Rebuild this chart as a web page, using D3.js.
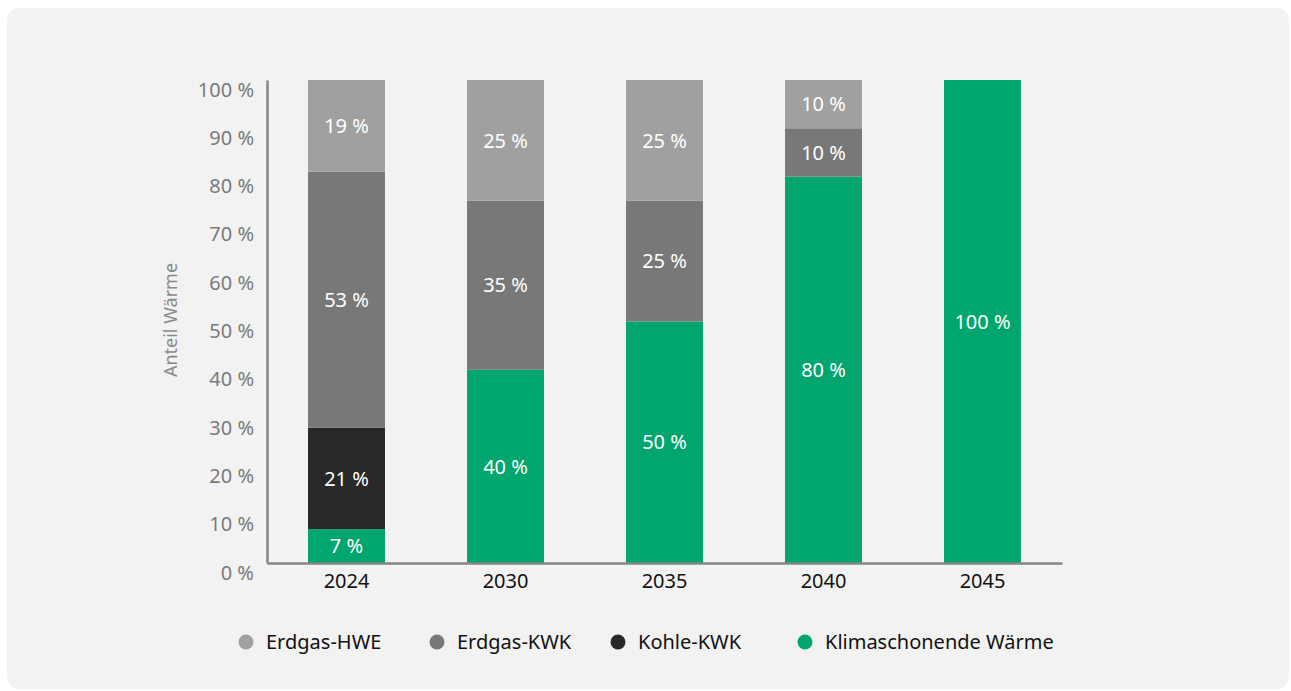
<!DOCTYPE html>
<html>
<head>
<meta charset="utf-8">
<script src="https://cdn.jsdelivr.net/npm/d3@7"></script>
<style>
  html, body { margin: 0; padding: 0; background: #fff; }
  svg { display: block; font-family: "Noto Sans", "Open Sans", sans-serif; }
</style>
</head>
<body>
<svg width="1291" height="691"></svg>
<script>
(function (d3) {
    'use strict';

    // data
    const years = ['2024', '2030', '2035', '2040', '2045'];
    const seriesNames = ['Klimaschonende Wärme', 'Kohle-KWK', 'Erdgas-KWK', 'Erdgas-HWE'];
    const klimaschonend = [7, 40, 50, 80, 100];
    const kohleKWK = [21, 0, 0, 0, 0];
    const erdgasKWK = [53, 35, 25, 10, 0];
    const erdgasHWE = [19, 25, 25, 10, 0];
    const yTicks = [0, 10, 20, 30, 40, 50, 60, 70, 80, 90, 100];
    const legendOrder = ['Erdgas-HWE', 'Erdgas-KWK', 'Kohle-KWK', 'Klimaschonende Wärme'];

    const colors = {
        'Erdgas-HWE': '#a0a0a0',
        'Erdgas-KWK': '#787878',
        'Kohle-KWK': '#282828',
        'Klimaschonende Wärme': '#00a66e'
    };

    const rows = years.map((y, i) => ({
        year: y,
        'Klimaschonende Wärme': klimaschonend[i],
        'Kohle-KWK': kohleKWK[i],
        'Erdgas-KWK': erdgasKWK[i],
        'Erdgas-HWE': erdgasHWE[i]
    }));

    const svg = d3.select('svg');

    svg.append('rect')
        .attr('x', 7).attr('y', 8)
        .attr('width', 1282).attr('height', 681)
        .attr('rx', 12)
        .attr('fill', '#f2f2f2');

    const left = 267, right = 1062, top = 80, bottom = 563;

    const x = d3.scaleBand()
        .domain(years)
        .range([left, right])
        .paddingInner(0.516)
        .paddingOuter(0.258);

    const y = d3.scaleLinear()
        .domain([0, 100])
        .range([bottom, top]);

    const stacked = d3.stack().keys(seriesNames)(rows);

    const layers = svg.append('g').selectAll('g')
        .data(stacked)
        .join('g')
        .attr('fill', d => colors[d.key]);

    layers.selectAll('rect')
        .data(d => d.filter(s => s[1] > s[0]))
        .join('rect')
        .attr('x', d => x(d.data.year))
        .attr('width', x.bandwidth())
        .attr('y', d => y(d[1]))
        .attr('height', d => y(d[0]) - y(d[1]));

    // value labels, centred in each segment
    layers.selectAll('text')
        .data(d => d.filter(s => s[1] > s[0]))
        .join('text')
        .attr('x', d => x(d.data.year) + x.bandwidth() / 2)
        .attr('y', d => y((d[0] + d[1]) / 2))
        .attr('dy', '0.36em')
        .attr('text-anchor', 'middle')
        .attr('fill', '#fff')
        .attr('font-size', 20)
        .text(d => (d[1] - d[0]) + ' %');

    // y axis
    const yAxis = svg.append('g')
        .attr('transform', `translate(${left},0)`)
        .call(d3.axisLeft(y).tickValues(yTicks).tickSize(0).tickPadding(13).tickFormat(d => d + ' %'));
    yAxis.select('.domain').attr('stroke', '#858585').attr('stroke-width', 2.5);
    yAxis.selectAll('text')
        .attr('font-size', 20)
        .attr('fill', '#7a7a7a')
        .attr('font-family', '"Noto Sans", sans-serif')
        .attr('dy', '0.8em');

    // x axis
    const xAxis = svg.append('g')
        .attr('transform', `translate(0,${bottom})`)
        .call(d3.axisBottom(x).tickSize(0).tickPadding(11));
    xAxis.select('.domain').attr('stroke', '#858585').attr('stroke-width', 2.5);
    xAxis.selectAll('text')
        .attr('font-size', 20)
        .attr('fill', '#111')
        .attr('font-family', '"Noto Sans", sans-serif');

    svg.append('text')
        .attr('transform', 'translate(177,320) rotate(-90)')
        .attr('text-anchor', 'middle')
        .attr('font-size', 18)
        .attr('fill', '#8a8a8a')
        .text('Anteil Wärme');

    // legend
    const legendPos = { 'Erdgas-HWE': 246, 'Erdgas-KWK': 437, 'Kohle-KWK': 618, 'Klimaschonende Wärme': 805 };
    const legend = svg.append('g').selectAll('g')
        .data(legendOrder)
        .join('g')
        .attr('transform', d => `translate(${legendPos[d]},642)`);
    legend.append('circle')
        .attr('r', 7.5)
        .attr('fill', d => colors[d]);
    legend.append('text')
        .attr('x', 20)
        .attr('dy', '0.36em')
        .attr('font-size', 20)
        .attr('fill', '#111')
        .text(d => d);
}(d3));
</script>
</body>
</html>
